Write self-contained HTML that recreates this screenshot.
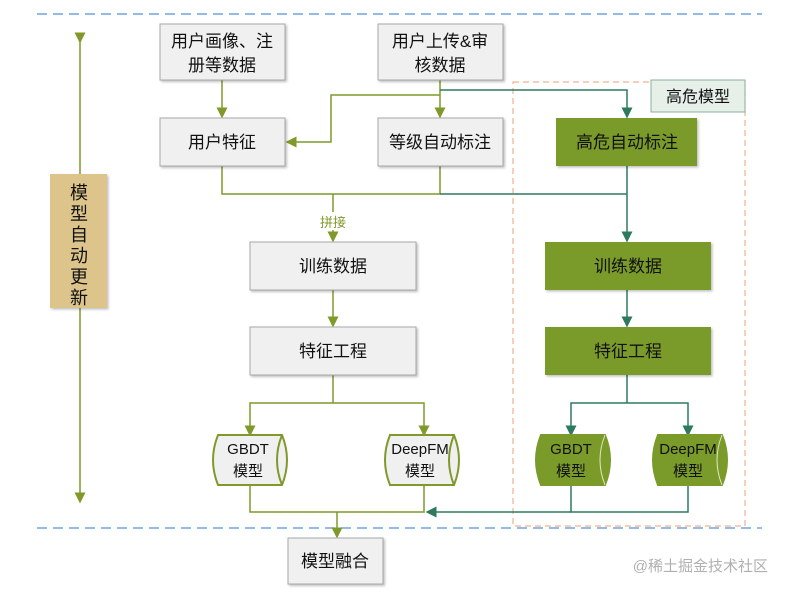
<!DOCTYPE html>
<html><head><meta charset="utf-8"><style>
html,body{margin:0;padding:0;background:#fff;}
svg{display:block;}
text{font-family:"Liberation Sans","Noto Sans CJK SC",sans-serif;}
</style></head><body>
<svg width="786" height="592" viewBox="0 0 786 592" xmlns="http://www.w3.org/2000/svg">
<defs>
<marker id="ao" markerWidth="11" markerHeight="11" refX="5.5" refY="5.5" orient="auto" markerUnits="userSpaceOnUse"><path d="M0,0 L11,5.5 L0,11 z" fill="#7f9a2a"/></marker>
<marker id="at" markerWidth="11" markerHeight="11" refX="5.5" refY="5.5" orient="auto" markerUnits="userSpaceOnUse"><path d="M0,0 L11,5.5 L0,11 z" fill="#2e7a5e"/></marker>
<filter id="sh" x="-10%" y="-10%" width="130%" height="130%"><feDropShadow dx="1.5" dy="1.5" stdDeviation="1.2" flood-color="#000" flood-opacity="0.25"/></filter>
</defs>
<line x1="37" y1="14" x2="762" y2="14" stroke="#6fa5dc" stroke-width="1.5" stroke-dasharray="10,6"/>
<line x1="37" y1="528" x2="762" y2="528" stroke="#6fa5dc" stroke-width="1.5" stroke-dasharray="10,6"/>
<rect x="513" y="82" width="232" height="444" fill="none" stroke="#f0b090" stroke-width="1.2" stroke-dasharray="6,4"/>
<rect x="651" y="80" width="94" height="32" fill="#e6efe8" stroke="#8ab0a0" stroke-width="1"/>
<text x="698" y="102" font-size="16" text-anchor="middle" fill="#111">高危模型</text>
<line x1="80" y1="38" x2="80" y2="498" stroke="#7f9a2a" stroke-width="1.5" marker-start="url(#ao)" marker-end="url(#ao)"/>
<rect x="50" y="174" width="57" height="134" fill="#dcc48a" filter="url(#sh)"/>
<g font-size="18" text-anchor="middle" fill="#111">
<text x="79" y="199">模</text><text x="79" y="220">型</text><text x="79" y="241">自</text><text x="79" y="262">动</text><text x="79" y="283">更</text><text x="79" y="304">新</text>
</g>
<g stroke="#7f9a2a" stroke-width="1.5" fill="none">
<line x1="222" y1="80" x2="222" y2="113" marker-end="url(#ao)"/>
<line x1="440" y1="80" x2="440" y2="113" marker-end="url(#ao)"/>
<polyline points="440,95 331,95 331,142 291,142" marker-end="url(#ao)"/>
<polyline points="222,166 222,194 440,194 440,166"/>
<line x1="333" y1="194" x2="333" y2="212"/>
<line x1="333" y1="230" x2="333" y2="237" marker-end="url(#ao)"/>
<line x1="333" y1="290" x2="333" y2="322" marker-end="url(#ao)"/>
<polyline points="333,375 333,403"/>
<polyline points="250,430 250,403 424,403 424,430"/>
<line x1="250" y1="430" x2="250" y2="431" marker-end="url(#ao)"/>
<line x1="424" y1="430" x2="424" y2="431" marker-end="url(#ao)"/>
<polyline points="250,485 250,512 424,512 424,485"/>
<line x1="337" y1="512" x2="337" y2="533" marker-end="url(#ao)"/>
</g>
<text x="333" y="227" font-size="13" text-anchor="middle" fill="#7f9a2a">拼接</text>
<g stroke="#2e7a5e" stroke-width="1.5" fill="none">
<polyline points="440,90 627,90 627,113" marker-end="url(#at)"/>
<polyline points="440,194 627,194"/>
<line x1="627" y1="166" x2="627" y2="237" marker-end="url(#at)"/>
<line x1="627" y1="290" x2="627" y2="322" marker-end="url(#at)"/>
<polyline points="627,375 627,403"/>
<polyline points="571,430 571,403 688,403 688,430"/>
<line x1="571" y1="430" x2="571" y2="431" marker-end="url(#at)"/>
<line x1="688" y1="430" x2="688" y2="431" marker-end="url(#at)"/>
<polyline points="571,485 571,512 688,512 688,485"/>
<line x1="571" y1="512" x2="431" y2="512" marker-end="url(#at)"/>
</g>
<g fill="#f0f0f0" stroke="#a8a8a8" stroke-width="1" filter="url(#sh)">
<rect x="160" y="24" width="125" height="56"/>
<rect x="378" y="24" width="125" height="56"/>
<rect x="160" y="118" width="125" height="48"/>
<rect x="378" y="118" width="125" height="48"/>
<rect x="250" y="242" width="166" height="48"/>
<rect x="250" y="327" width="166" height="48"/>
<rect x="288" y="538" width="95" height="46"/>
</g>
<g fill="#7a9a2a" filter="url(#sh)">
<rect x="556" y="118" width="141" height="48"/>
<rect x="545" y="242" width="166" height="48"/>
<rect x="545" y="327" width="166" height="48"/>
</g>
<g font-size="17" text-anchor="middle" fill="#111">
<text x="222" y="47">用户画像、注</text><text x="222" y="71">册等数据</text>
<text x="440" y="47">用户上传&amp;审</text><text x="440" y="71">核数据</text>
<text x="222" y="148">用户特征</text>
<text x="440" y="148">等级自动标注</text>
<text x="333" y="272">训练数据</text>
<text x="333" y="357">特征工程</text>
<text x="335" y="567">模型融合</text>
<text x="627" y="148">高危自动标注</text>
<text x="628" y="272">训练数据</text>
<text x="628" y="357">特征工程</text>
</g>
<g stroke-width="2">
<path d="M218,435 L282,435 Q292,460 282,485 L218,485 Q208,460 218,435 z" fill="#f0f0f0" stroke="#7f9a2a"/>
<path d="M282,435 Q272,460 282,485" fill="none" stroke="#7f9a2a"/>
<path d="M390,435 L454,435 Q464,460 454,485 L390,485 Q380,460 390,435 z" fill="#f0f0f0" stroke="#7f9a2a"/>
<path d="M454,435 Q444,460 454,485" fill="none" stroke="#7f9a2a"/>
<path d="M541,435 L605,435 Q615,460 605,485 L541,485 Q531,460 541,435 z" fill="#7a9a2a" stroke="#7a9a2a"/>
<path d="M605,435 Q595,460 605,485" fill="none" stroke="#dfe8c0" stroke-width="1"/>
<path d="M658,435 L722,435 Q732,460 722,485 L658,485 Q648,460 658,435 z" fill="#7a9a2a" stroke="#7a9a2a"/>
<path d="M722,435 Q712,460 722,485" fill="none" stroke="#dfe8c0" stroke-width="1"/>
</g>
<g font-size="15" text-anchor="middle" fill="#111">
<text x="248" y="454">GBDT</text><text x="248" y="476">模型</text>
<text x="420" y="454">DeepFM</text><text x="420" y="476">模型</text>
<text x="571" y="454">GBDT</text><text x="571" y="476">模型</text>
<text x="688" y="454">DeepFM</text><text x="688" y="476">模型</text>
</g>
<text x="768" y="571" font-size="15" text-anchor="end" fill="#b0b0b0">@稀土掘金技术社区</text>
</svg>
</body></html>
